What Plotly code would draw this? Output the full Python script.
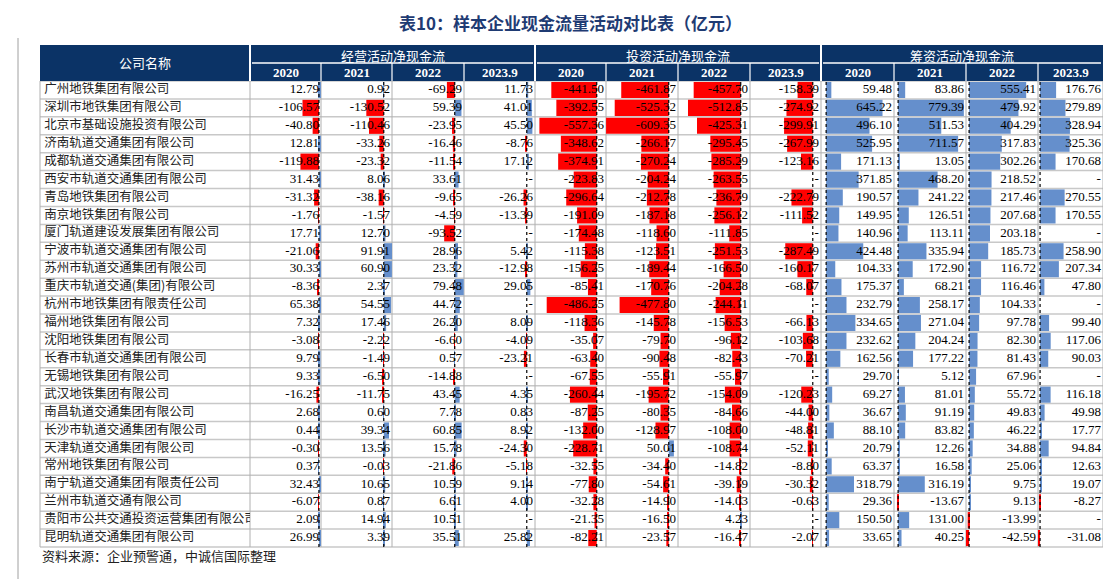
import plotly.graph_objects as go

companies = ["广州地铁集团有限公司","深圳市地铁集团有限公司","北京市基础设施投资有限公司","济南轨道交通集团有限公司",
"成都轨道交通集团有限公司","西安市轨道交通集团有限公司","青岛地铁集团有限公司","南京地铁集团有限公司",
"厦门轨道建设发展集团有限公司","宁波市轨道交通集团有限公司","苏州市轨道交通集团有限公司","重庆市轨道交通(集团)有限公司",
"杭州市地铁集团有限责任公司","福州地铁集团有限公司","沈阳地铁集团有限公司","长春市轨道交通集团有限公司",
"无锡地铁集团有限公司","武汉地铁集团有限公司","南昌轨道交通集团有限公司","长沙市轨道交通集团有限公司",
"天津轨道交通集团有限公司","常州地铁集团有限公司","南宁轨道交通集团有限责任公司","兰州市轨道交通有限公司",
"贵阳市公共交通投资运营集团有限公司","昆明轨道交通集团有限公司"]
years = ["2020","2021","2022","2023.9"]
groups = ["经营活动净现金流","投资活动净现金流","筹资活动净现金流"]

op_2020 = [12.79,-106.57,-40.80,12.81,-119.88,31.43,-31.32,-1.76,17.71,-21.06,30.33,-8.36,65.38,7.32,-3.08,9.79,9.33,-16.25,2.68,0.44,-0.30,0.37,32.43,-6.07,2.09,26.99]
op_2021 = [0.92,-130.52,-110.46,-33.26,-23.32,8.06,-38.16,-1.57,12.70,91.91,60.90,2.37,54.55,17.46,-2.22,-1.49,-6.50,-11.75,0.60,39.34,13.56,-0.03,10.65,0.87,14.94,3.39]
op_2022 = [-69.29,59.39,-23.95,-16.46,-11.54,33.61,-9.65,-4.59,-93.52,28.96,23.32,79.48,44.72,26.20,-6.60,0.57,-14.88,43.45,7.78,60.85,15.78,-21.86,10.59,6.61,10.51,35.51]
op_2023 = [11.73,41.01,45.50,-8.76,17.12,None,-26.26,-13.39,None,5.42,-12.98,29.05,None,8.09,-4.09,-23.21,None,4.35,0.83,8.92,-24.30,-5.18,9.14,4.00,None,25.82]
inv_2020 = [-441.50,-392.55,-557.36,-348.62,-374.91,-223.83,-296.64,-191.09,-174.48,-115.38,-156.25,-85.41,-486.25,-118.36,-35.07,-63.40,-67.55,-260.44,-87.25,-132.00,-228.71,-32.55,-77.80,-32.28,-21.35,-82.21]
inv_2021 = [-461.87,-525.32,-609.35,-266.17,-270.24,-204.24,-212.78,-187.18,-118.60,-123.51,-189.44,-170.76,-477.80,-145.78,-79.70,-90.48,-55.91,-195.72,-80.35,-128.97,50.01,-34.40,-54.61,-14.90,-16.50,-23.57]
inv_2022 = [-457.70,-512.85,-425.31,-295.45,-285.29,-263.55,-236.79,-256.12,-111.85,-251.53,-166.50,-204.28,-244.11,-156.53,-96.12,-82.43,-55.97,-154.09,-84.66,-108.00,-108.74,-14.82,-39.19,-14.03,4.23,-16.47]
inv_2023 = [-158.39,-274.92,-299.91,-267.99,-123.16,None,-222.79,-111.52,None,-287.49,-160.17,-68.07,None,-66.13,-103.68,-70.21,None,-120.23,-44.00,-48.81,-52.11,-8.80,-30.32,-0.63,None,-2.07]
fin_2020 = [59.48,645.22,496.10,525.95,171.13,371.85,190.57,149.95,140.96,424.48,104.33,175.37,232.79,334.65,232.62,162.56,29.70,69.27,36.67,88.10,20.79,63.37,318.79,29.36,150.50,33.65]
fin_2021 = [83.86,779.39,511.53,711.57,13.05,468.20,241.22,126.51,113.11,335.94,172.90,68.21,258.17,271.04,204.24,177.22,5.12,81.01,91.19,83.82,12.26,16.58,316.19,-13.67,131.00,40.25]
fin_2022 = [555.41,479.92,404.29,317.83,302.26,218.52,217.46,207.68,203.18,185.73,116.72,116.46,104.33,97.78,82.30,81.43,67.96,55.72,49.83,46.22,34.88,25.06,9.75,9.13,-13.99,-42.59]
fin_2023 = [176.76,279.89,328.94,325.36,170.68,None,270.55,170.55,None,258.90,207.34,47.80,None,99.40,117.06,90.03,None,116.18,49.98,17.77,94.84,12.63,19.07,-8.27,None,-31.08]

series = [op_2020,op_2021,op_2022,op_2023,inv_2020,inv_2021,inv_2022,inv_2023,fin_2020,fin_2021,fin_2022,fin_2023]

OFF = 8  # page body margin
W, H = 1111 - OFF, 579 - OFF
cols = [(250,321,318,0.15),(321,392,383,0.13),(392,464,454,0.11),(464,535,526,0.12),
        (535,606,596,0.1),(606,678,668,0.1),(678,750,740,0.1),(750,821,812,0.093),
        (821,894,827,0.085),(894,966,899,0.082),(966,1038,970,0.1),(1038,1103,1041,0.088)]
ROW_TOP, ROW_BOT = 81, 547
TBL_L = 40
RED, BLUE = "#FF0000", "#658FCC"
HDR = "#0B3366"
py = lambda p: 1 - (p - OFF) / H
px = lambda p: (p - OFF) / W

fig = go.Figure()
n = len(companies)
shapes, annotations = [], []

def ann(text, x, y, size, color, family="Noto Sans CJK SC", xanchor="center"):
    annotations.append(dict(text=text, x=px(x), y=py(y), xref="paper", yref="paper", showarrow=False,
                            xanchor=xanchor, yanchor="middle", font=dict(family=family, size=size, color=color)))

for i, (vals, (l, r, z, s)) in enumerate(zip(series, cols)):
    ax = "" if i == 0 else str(i + 1)
    xr = [(l + 1 - z) / s, (r - 1 - z) / s]
    fig.add_trace(go.Bar(
        y=companies, x=vals, orientation="h", base=0,
        marker=dict(color=[RED if (v is not None and v < 0) else BLUE for v in vals], line_width=0),
        width=0.9, xaxis="x" + ax, yaxis="y", showlegend=False, hoverinfo="skip"))
    fig.add_trace(go.Scatter(
        y=companies, x=[(r - 3 - z) / s] * n, mode="text",
        text=["-" if v is None else f"{v:.2f}" for v in vals], textposition="middle left",
        textfont=dict(family="Liberation Serif", size=13, color="black"),
        xaxis="x" + ax, yaxis="y", showlegend=False, hoverinfo="skip", cliponaxis=True))
    fig.layout["xaxis" + ax] = dict(domain=[px(l), px(r)], range=xr, visible=False, fixedrange=True)
    shapes.append(dict(type="line", xref="x" + ax, yref="paper", x0=0, x1=0, y0=py(ROW_BOT), y1=py(ROW_TOP),
                       line=dict(color="black", width=1.2, dash="dot"), layer="above"))

fig.add_trace(go.Scatter(y=companies, x=[0.02] * n, mode="text", text=companies, textposition="middle right",
                         textfont=dict(family="Noto Sans CJK SC", size=12.5, color="#222"),
                         xaxis="x13", yaxis="y", showlegend=False, hoverinfo="skip", cliponaxis=True))
fig.layout["xaxis13"] = dict(domain=[px(TBL_L), px(250)], range=[0, 1], visible=False, fixedrange=True)
fig.update_layout(yaxis=dict(domain=[py(ROW_BOT), py(ROW_TOP)], range=[n - 0.5, -0.5], visible=False,
                             type="category", categoryorder="array", categoryarray=companies, fixedrange=True))

rh = (ROW_BOT - ROW_TOP) / n
for k in range(n + 1):
    yy = ROW_TOP + k * rh
    shapes.append(dict(type="line", xref="paper", yref="paper", x0=px(TBL_L), x1=px(1103), y0=py(yy), y1=py(yy),
                       line=dict(color="#C8C8C8", width=1.5), layer="below"))
for xx in [TBL_L, 250] + [c[1] for c in cols]:
    shapes.append(dict(type="line", xref="paper", yref="paper", x0=px(xx), x1=px(xx), y0=py(ROW_TOP), y1=py(ROW_BOT),
                       line=dict(color="#B0B0B0", width=1), layer="below"))

H1, H2 = 45, 63
shapes.append(dict(type="rect", xref="paper", yref="paper", x0=px(TBL_L), x1=px(1103), y0=py(ROW_TOP), y1=py(H1),
                   fillcolor=HDR, line_width=0, layer="below"))
ann("公司名称", (TBL_L + 250) / 2, (H1 + ROW_TOP) / 2, 13, "white")
for g in range(3):
    gl, gr = cols[4 * g][0], cols[4 * g + 3][1]
    ann(groups[g], (gl + gr) / 2, (H1 + H2) / 2 + 1, 13, "white")
    shapes.append(dict(type="line", xref="paper", yref="paper", x0=px(gl + 2), x1=px(gr - 2), y0=py(H2), y1=py(H2),
                       line=dict(color="white", width=1.5)))
    for j in range(4):
        l, r = cols[4 * g + j][:2]
        ann(f"<b>{years[j]}</b>", (l + r) / 2, (H2 + ROW_TOP) / 2 + 1, 13, "white", family="Liberation Serif")
for xx in [250] + [c[1] for c in cols[:-1]]:
    major = xx in (250, 535, 821)
    shapes.append(dict(type="line", xref="paper", yref="paper", x0=px(xx), x1=px(xx),
                       y0=py(ROW_TOP), y1=py(H1 if major else H2), line=dict(color="white", width=2 if major else 1.2)))
for xx in [18, 1104]:
    shapes.append(dict(type="line", xref="paper", yref="paper", x0=px(xx), x1=px(xx), y0=0, y1=py(38),
                       line=dict(color="#A0A0A0", width=1)))

ann("<b>表10：样本企业现金流量活动对比表（亿元）</b>", 570, 22, 17, "#1F3B73")
ann("资料来源：企业预警通，中诚信国际整理", TBL_L, 555, 13, "#222", xanchor="left")

fig.update_layout(width=W, height=H, margin=dict(l=0, r=0, t=0, b=0), plot_bgcolor="white", paper_bgcolor="white",
                  barmode="overlay", shapes=shapes, annotations=annotations)
fig.write_html("out.html", config={"displayModeBar": False})
